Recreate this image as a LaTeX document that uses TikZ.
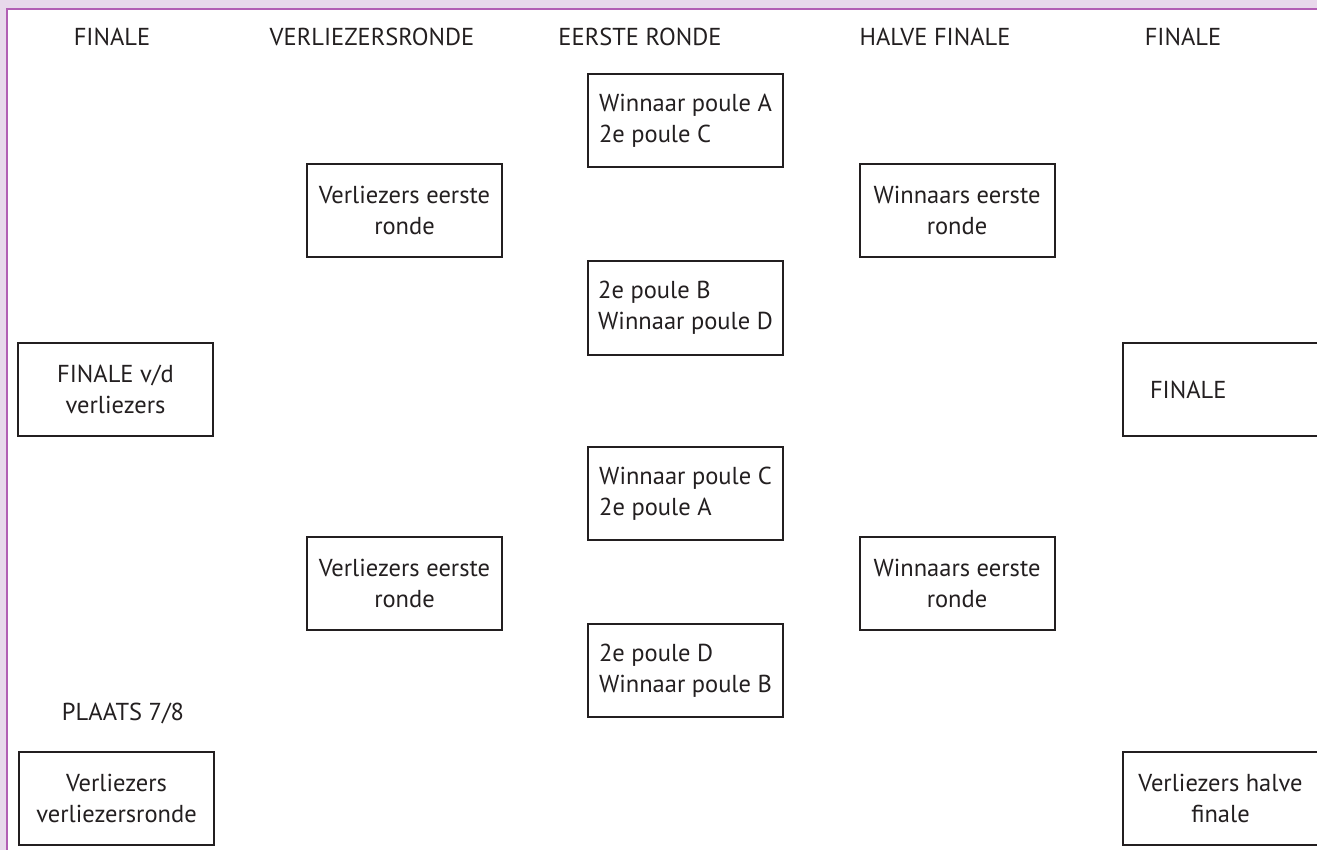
\documentclass[tikz,border=0pt]{standalone}
\usepackage{fontspec}
\setmainfont{PT Sans}
\usetikzlibrary{positioning}

\definecolor{inkt}{HTML}{231F20}
\definecolor{lila}{HTML}{E8D9EB}
\definecolor{paars}{HTML}{B25FB4}

\begin{document}
\begin{tikzpicture}[x=1pt, y=-1pt, every node/.style={font=\fontsize{24.5}{31}\selectfont, text=inkt},
	vak/.style={draw=inkt, line width=2pt, minimum width=195pt, minimum height=93pt, align=center, inner sep=0pt},
	rondevak/.style={vak, align=left},
	kop/.style={anchor=base}]
	\useasboundingbox (0,0) rectangle (1317,850);
	% achtergrond en kader
	\fill[lila] (0,0) rectangle (1317,850);
	\fill[white] (7,9) rectangle (1317,850);
	\draw[paars, line width=2pt] (7,850) -- (7,9) -- (1317,9);

	% koppen
	\node[kop] (kopfinl) at (112,46) {FINALE};
	\node[kop] (kopverl) at (372,46) {VERLIEZERSRONDE};
	\node[kop] (kopeerste) at (640,46) {EERSTE RONDE};
	\node[kop] (kophalve) at (935,46) {HALVE FINALE};
	\node[kop] (kopfinr) at (1183,46) {FINALE};
	\node[kop] (kopplaats) at (123,720) {PLAATS 7/8};

	% eerste ronde
	\node[rondevak] (r1) at (685.5,120.5) {Winnaar poule A\\2e poule C};
	\node[rondevak] (r2) at (685.5,308) {2e poule B\\Winnaar poule D};
	\node[rondevak] (r3) at (685.5,493.5) {Winnaar poule C\\2e poule A};
	\node[rondevak] (r4) at (685.5,670.5) {2e poule D\\Winnaar poule B};

	% verliezersronde
	\node[vak] (v1) at (404.5,210.5) {Verliezers eerste\\ronde};
	\node[vak] (v2) at (404.5,583.5) {Verliezers eerste\\ronde};

	% halve finale
	\node[vak] (h1) at (957,210.5) {Winnaars eerste\\ronde};
	\node[vak] (h2) at (957,583.5) {Winnaars eerste\\ronde};

	% finales
	\node[vak] (finl) at (115.5,389.5) {FINALE v/d\\verliezers};
	\node[vak, align=left, text width=141pt] (finr) at (1220.5,389.5) {FINALE};
	\node[vak] (plaats) at (116.5,798.5) {Verliezers\\verliezersronde};
	\node[vak] (derde) at (1220.5,798.5) {Verliezers halve\\finale};
\end{tikzpicture}
\end{document}
